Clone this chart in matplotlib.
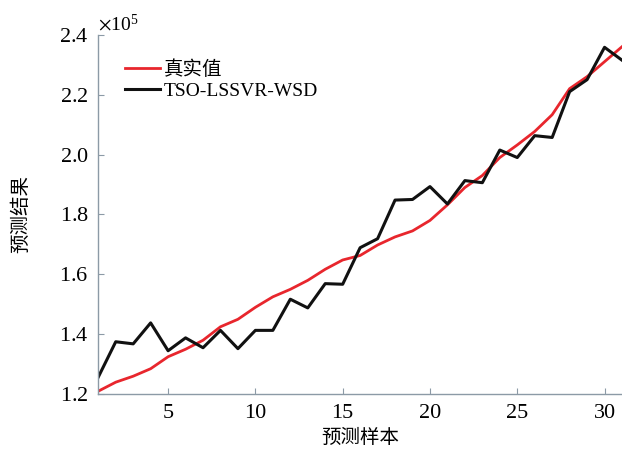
import matplotlib.pyplot as plt
from matplotlib.ticker import ScalarFormatter

plt.rcParams['font.family'] = ['Liberation Serif', 'Noto Sans CJK SC']
plt.rcParams['mathtext.fontset'] = 'stix'

samples = list(range(1, 32))
true_vals = [1.21, 1.24, 1.26, 1.285, 1.325, 1.35, 1.38, 1.425, 1.45, 1.49,
             1.525, 1.55, 1.58, 1.617, 1.648, 1.663, 1.698, 1.725, 1.745, 1.78,
             1.832, 1.89, 1.93, 1.99, 2.032, 2.077, 2.133, 2.22, 2.26, 2.31,
             2.36]
pred_vals = [1.257, 1.375, 1.368, 1.438, 1.345, 1.388, 1.355, 1.413, 1.352, 1.413,
             1.413, 1.517, 1.488, 1.569, 1.567, 1.689, 1.719, 1.848, 1.85, 1.893,
             1.835, 1.913, 1.906, 2.015, 1.99, 2.063, 2.057, 2.21, 2.25, 2.358,
             2.315]
true_vals = [v * 1e5 for v in true_vals]
pred_vals = [v * 1e5 for v in pred_vals]

fig = plt.figure(figsize=(6.22, 4.51), dpi=100)
ax = fig.add_axes([0.158, 0.126, 0.842, 0.797])

ax.plot(samples, true_vals, color='#e8262d', lw=2.0, label='真实值')
ax.plot(samples, pred_vals, color='#111111', lw=2.2, label='TSO-LSSVR-WSD')

ax.set_xlim(1, 31)
ax.set_ylim(1.2e5, 2.4e5)
ax.set_xticks([5, 10, 15, 20, 25, 30])
ax.set_yticks([1.2e5, 1.4e5, 1.6e5, 1.8e5, 2.0e5, 2.2e5, 2.4e5])

fmt = ScalarFormatter(useMathText=True)
fmt.set_powerlimits((0, 0))
ax.yaxis.set_major_formatter(fmt)
ax.yaxis.get_offset_text().set_fontsize(14)

for s in ['top', 'right']:
    ax.spines[s].set_visible(False)
for s in ['left', 'bottom']:
    ax.spines[s].set_color('#8c9aa6')
    ax.spines[s].set_linewidth(1.0)
ax.tick_params(direction='in', length=4, color='#8c9aa6', labelsize=16, pad=7)

ax.set_xlabel('预测样本', fontsize=14, family=['Noto Sans CJK SC'], labelpad=3)
ax.set_ylabel('预测结果', fontsize=14, family=['Noto Sans CJK SC'], labelpad=20)

leg = ax.legend(loc='upper left', frameon=False, fontsize=14, handlelength=1.8,
                handletextpad=0.2, labelspacing=0.2, borderaxespad=0.3,
                bbox_to_anchor=(0.025, 0.968))
for t in leg.get_texts():
    t.set_family(['Liberation Serif', 'Noto Sans CJK SC'])

fig.savefig('out.png', dpi=100)
